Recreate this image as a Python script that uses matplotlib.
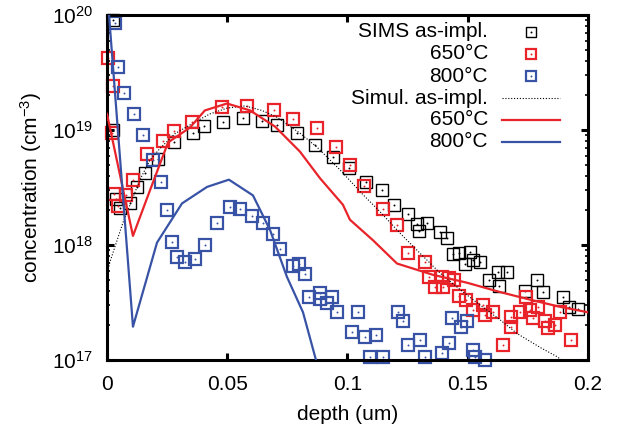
import numpy as np
import matplotlib
matplotlib.use("Agg")
import matplotlib.pyplot as plt
from matplotlib.lines import Line2D

plt.rcParams['font.family'] = ['Liberation Sans', 'DejaVu Sans']
plt.rcParams['mathtext.fontset'] = 'custom'
plt.rcParams['mathtext.rm'] = 'Liberation Sans'
plt.rcParams['mathtext.it'] = 'Liberation Sans:italic'

# === SIMS data (depth in um, concentration in cm^-3) ===
sims_asimpl_x = [0.0025, 0.0025, 0.0037, 0.0054, 0.0096, 0.0125, 0.0158, 0.0212, 0.0279,
                 0.0358, 0.0403, 0.0482, 0.0565, 0.0644, 0.0707, 0.079, 0.0865, 0.094,
                 0.1006, 0.1077, 0.1143, 0.1193, 0.1252, 0.1289, 0.1297, 0.1331, 0.1385,
                 0.1414, 0.1439, 0.1464, 0.1489, 0.1509, 0.1522, 0.1551, 0.1588, 0.1626,
                 0.163, 0.1663, 0.1738, 0.1788, 0.1813, 0.1896, 0.1921, 0.1958]
sims_asimpl_y = [9.1e19, 1.0e19, 2.5e18, 2.1e18, 2.3e18, 3.2e18, 4.2e18, 5.6e18, 7.8e18,
                 9.4e18, 1.08e19, 1.17e19, 1.27e19, 1.2e19, 1.1e19, 9.4e18, 7.4e18, 5.8e18,
                 4.7e18, 3.55e18, 3.0e18, 2.24e18, 1.86e18, 1.52e18, 1.32e18, 1.55e18, 1.29e18,
                 1.15e18, 8.3e17, 8.5e17, 6.9e17, 8.7e17, 7.4e17, 7.1e17, 5.0e17, 5.8e17,
                 4.4e17, 5.8e17, 4.0e17, 5.0e17, 3.9e17, 3.5e17, 2.9e17, 2.8e17]

sims_650_x = [0.0004, 0.0025, 0.002, 0.0029, 0.0046, 0.0079, 0.0108, 0.0166, 0.0233,
              0.0279, 0.0353, 0.0478, 0.0582, 0.0694, 0.0773, 0.0873, 0.0952, 0.101,
              0.1069, 0.1148, 0.1206, 0.1252, 0.1322, 0.1339, 0.1364, 0.1393, 0.1397,
              0.1422, 0.1443, 0.1464, 0.1493, 0.1522, 0.1563, 0.1572, 0.1605, 0.1647,
              0.168, 0.168, 0.1717, 0.1742, 0.1759, 0.1771, 0.1792, 0.1821, 0.1834,
              0.1863, 0.1884, 0.1929]
sims_650_y = [4.2e19, 2.4e19, 9.4e18, 2.8e18, 2.2e18, 2.7e18, 3.7e18, 6.2e18, 8.0e18,
              9.8e18, 1.17e19, 1.58e19, 1.62e19, 1.48e19, 1.25e19, 1.05e19, 7.1e18, 5.0e18,
              3.25e18, 2.05e18, 1.48e18, 8.5e17, 7.1e17, 5.3e17, 4.3e17, 5.3e17, 4.3e17,
              5.2e17, 5.0e17, 3.6e17, 3.3e17, 2.7e17, 3.0e17, 2.46e17, 2.6e17, 1.35e17,
              2.35e17, 1.95e17, 2.6e17, 3.5e17, 2.7e17, 2.3e17, 2.9e17, 2.2e17, 1.9e17,
              2.0e17, 2.6e17, 1.48e17]

sims_800_x = [0.0033, 0.0046, 0.0071, 0.0112, 0.015, 0.0191, 0.0225, 0.0249, 0.027,
              0.0291, 0.0324, 0.0366, 0.0407, 0.0457, 0.0511, 0.0553, 0.0603, 0.0649,
              0.069, 0.0719, 0.0773, 0.0798, 0.0823, 0.084, 0.0886, 0.0886, 0.0936,
              0.0915, 0.0956, 0.1044, 0.1019, 0.1073, 0.1119, 0.1094, 0.1148, 0.121,
              0.1231, 0.1252, 0.1301, 0.1322, 0.1393, 0.1422, 0.1435, 0.1472, 0.1497,
              0.1522, 0.153, 0.1572]
sims_800_y = [8.5e19, 3.5e19, 2.1e19, 1.38e19, 9.1e18, 5.5e18, 3.55e18, 2.0e18, 1.07e18,
              7.9e17, 7.1e17, 7.5e17, 1.0e18, 1.55e18, 2.15e18, 2.05e18, 1.78e18, 1.55e18,
              1.25e18, 9.3e17, 6.6e17, 6.9e17, 5.6e17, 3.5e17, 3.8e17, 3.4e17, 3.5e17,
              3.1e17, 2.6e17, 2.6e17, 1.75e17, 1.6e17, 1.65e17, 1.07e17, 1.07e17, 2.6e17,
              2.2e17, 1.35e17, 1.48e17, 1.07e17, 1.15e17, 1.4e17, 2.3e17, 1.95e17, 2.2e17,
              1.23e17, 1.07e17, 1.0e17]

# === Simulated profiles ===
sim_asimpl_x = [0.0, 0.0012, 0.0042, 0.0067, 0.0096, 0.0137, 0.0179, 0.022, 0.0283,
                0.0358, 0.0428, 0.0499, 0.0574, 0.0644, 0.0707, 0.0802, 0.0873, 0.0969,
                0.106, 0.1135, 0.1218, 0.1301, 0.1385, 0.1468, 0.1538, 0.1634, 0.1705,
                0.18, 0.1871, 0.1896]
sim_asimpl_y = [5.5e17, 7.1e17, 1.1e18, 1.58e18, 2.24e18, 3.7e18, 5.5e18, 6.9e18, 9.3e18,
                1.15e19, 1.38e19, 1.55e19, 1.62e19, 1.48e19, 1.29e19, 9.4e18, 7.1e18, 4.5e18,
                2.8e18, 1.95e18, 1.27e18, 8.5e17, 5.7e17, 4.1e17, 3.15e17, 2.24e17, 1.7e17,
                1.29e17, 1.07e17, 9.8e16]

sim_650_x = [0.0, 0.0108, 0.0179, 0.0254, 0.0345, 0.0407, 0.0499, 0.0595, 0.0699,
             0.0802, 0.0886, 0.0981, 0.101, 0.1106, 0.1206, 0.1356, 0.1497, 0.1634,
             0.1771, 0.1884, 0.2]
sim_650_y = [1.38e19, 1.2e18, 3.0e18, 7.8e18, 1.05e19, 1.48e19, 1.7e19, 1.48e19, 1.07e19,
             6.5e18, 3.8e18, 2.24e18, 1.66e18, 1.1e18, 6.9e17, 5.5e17, 4.7e17, 3.9e17,
             3.3e17, 2.9e17, 2.6e17]

sim_800_x = [0.0, 0.0108, 0.0208, 0.0312, 0.0416, 0.0507, 0.0607, 0.0678, 0.0748,
             0.0815, 0.0869, 0.092]
sim_800_y = [1.7e20, 1.95e17, 1.05e18, 2.3e18, 3.2e18, 3.7e18, 2.7e18, 1.35e18, 5.3e17,
             2.6e17, 1.0e17, 6e16]

RED = '#e8242a'
BLUE = '#3853a6'
FS = 15

fig = plt.figure(figsize=(6.38, 4.34), dpi=100)
ax = fig.add_axes([0.1677, 0.1705, 0.7539, 0.7949])

def sims(x, y, color, mew):
    ax.plot(x, y, 's', ms=8.5, mfc='none', mec=color, mew=mew, clip_on=False, zorder=2)
    ax.plot(x, y, 'o', ms=1.4, color=color, mew=0, clip_on=False, zorder=2)

sims(sims_asimpl_x, sims_asimpl_y, 'black', 1.0)
sims(sims_650_x, sims_650_y, RED, 1.6)
sims(sims_800_x, sims_800_y, BLUE, 1.6)

ax.plot(sim_asimpl_x, sim_asimpl_y, color='black', lw=0.8, ls=(0, (1, 1.6)), zorder=3)
ax.plot(sim_650_x, sim_650_y, color=RED, lw=1.6, zorder=3)
ax.plot(sim_800_x, sim_800_y, color=BLUE, lw=1.6, zorder=3)

ax.set_yscale('log')
ax.set_xlim(0, 0.2)
ax.set_ylim(1e17, 1e20)
ax.set_xticks([0, 0.05, 0.1, 0.15, 0.2])
ax.set_xticklabels(['0', '0.05', '0.1', '0.15', '0.2'])
ax.set_yticks([1e17, 1e18, 1e19, 1e20])

for s in ax.spines.values():
    s.set_linewidth(2.2)
ax.tick_params(which='major', direction='in', top=True, right=True,
               length=5, width=2.2, labelsize=FS)
ax.tick_params(axis='x', pad=11)
ax.tick_params(axis='y', pad=10)
ax.tick_params(which='minor', direction='in', right=True, length=2.5, width=1.2)
ax.tick_params(axis='x', which='minor', bottom=False, top=False)

ax.set_xlabel('depth (um)', fontsize=FS, labelpad=8)
ax.set_ylabel('concentration (cm$^{-3}$)', fontsize=FS, labelpad=6)

# === legend, gnuplot style (right-aligned text, key on the right) ===
labels = ['SIMS as-impl.', '650°C', '800°C', 'Simul. as-impl.', '650°C', '800°C']
rows_y = [0.951, 0.887, 0.823, 0.759, 0.696, 0.632]
for lab, yy in zip(labels, rows_y):
    ax.text(0.792, yy, lab, transform=ax.transAxes, ha='right', va='center', fontsize=FS)
for color, mew, yy in zip(['black', RED, BLUE], [1.0, 1.6, 1.6], rows_y[:3]):
    ax.add_line(Line2D([0.881], [yy], transform=ax.transAxes, marker='s', ms=7.5,
                       mfc='none', mec=color, mew=mew))
    ax.add_line(Line2D([0.881], [yy], transform=ax.transAxes, marker='o', ms=1.4,
                       color=color, mew=0))
for color, lw, ls, yy in zip(['black', RED, BLUE], [0.8, 1.6, 1.6],
                             [(0, (1, 1.6)), '-', '-'], rows_y[3:]):
    ax.add_line(Line2D([0.821, 0.942], [yy, yy], transform=ax.transAxes,
                       color=color, lw=lw, ls=ls))

fig.savefig('out.png', dpi=100)
